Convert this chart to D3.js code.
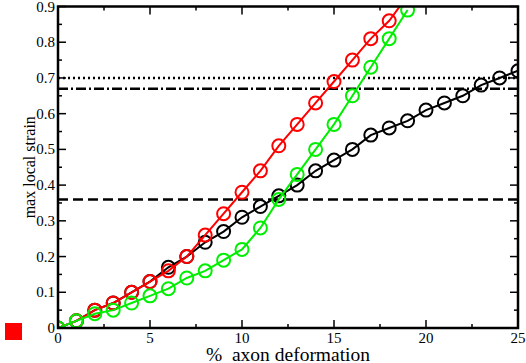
<!DOCTYPE html>
<html>
<head>
<meta charset="utf-8">
<script src="https://cdn.jsdelivr.net/npm/d3@7"></script>
<style>
  body { margin: 0; background: #fff; }
  text { font-family: "Liberation Serif", "DejaVu Serif", serif; }
</style>
</head>
<body>
<div id="chart"></div>
<script>
// data
const deformation = d3.range(0, 26);
const blackStrain = [0, 0.02, 0.05, 0.07, 0.10, 0.13, 0.17, 0.20, 0.24, 0.27, 0.31, 0.34, 0.37, 0.40,
  0.44, 0.47, 0.50, 0.54, 0.56, 0.58, 0.61, 0.63, 0.65, 0.68, 0.70, 0.72];
const redStrain = [0, 0.02, 0.05, 0.07, 0.10, 0.13, 0.16, 0.20, 0.26, 0.32, 0.38, 0.44, 0.51, 0.57,
  0.63, 0.69, 0.75, 0.81, 0.86, 0.93];
const greenStrain = [0, 0.02, 0.04, 0.05, 0.07, 0.09, 0.11, 0.14, 0.16, 0.19, 0.22, 0.28, 0.36, 0.43,
  0.50, 0.57, 0.65, 0.73, 0.81, 0.89];
const thresholds = [0.70, 0.67, 0.36];
const thresholdDash = ["2,3", "10,3,2,3", "10,5"];
const xTicks = [0, 5, 10, 15, 20, 25];
const yTicks = [0, 0.1, 0.2, 0.3, 0.4, 0.5, 0.6, 0.7, 0.8, 0.9];

const width = 526, height = 363;
const margin = { top: 6.5, right: 8, bottom: 35, left: 58 };
const plotW = width - margin.left - margin.right;
const plotH = height - margin.top - margin.bottom;

const svg = d3.select("#chart").append("svg")
  .attr("width", width)
  .attr("height", height);

const x = d3.scaleLinear().domain([0, 25]).range([margin.left, margin.left + plotW]);
const y = d3.scaleLinear().domain([0, 0.9]).range([margin.top + plotH, margin.top]);

svg.append("clipPath").attr("id", "clip")
  .append("rect")
  .attr("x", margin.left).attr("y", margin.top)
  .attr("width", plotW).attr("height", plotH);

// threshold lines
svg.selectAll(".thr")
  .data(thresholds)
  .enter().append("line")
  .attr("x1", x(0)).attr("x2", x(25))
  .attr("y1", d => y(d)).attr("y2", d => y(d))
  .attr("stroke", "black")
  .attr("stroke-width", 2.5)
  .attr("stroke-dasharray", (d, i) => thresholdDash[i]);

// series
const series = [
  { vals: blackStrain, color: "black" },
  { vals: redStrain, color: "#ff0000" },
  { vals: greenStrain, color: "#00ee00" }
];

const line = d3.line().x(d => x(d[0])).y(d => y(d[1]));
const plot = svg.append("g").attr("clip-path", "url(#clip)");

series.forEach(s => {
  const pts = s.vals.map((v, i) => [deformation[i], v]);
  plot.append("path")
    .attr("d", line(pts))
    .attr("fill", "none")
    .attr("stroke", s.color)
    .attr("stroke-width", 2);
  plot.selectAll(null)
    .data(pts)
    .enter().append("circle")
    .attr("cx", d => x(d[0]))
    .attr("cy", d => y(d[1]))
    .attr("r", 6.5)
    .attr("fill", "none")
    .attr("stroke", s.color)
    .attr("stroke-width", 2);
});

// ticks, inward on all four sides
const tickG = svg.append("g").attr("stroke", "black").attr("stroke-width", 1.5);
const xMinor = d3.range(0, 25.01, 2.5);
const yMinor = d3.range(0, 0.901, 0.05);

xMinor.forEach(v => {
  const len = Math.abs(v % 5) < 1e-6 ? 8 : 4;
  tickG.append("line").attr("x1", x(v)).attr("x2", x(v))
    .attr("y1", y(0)).attr("y2", y(0) - len);
  tickG.append("line").attr("x1", x(v)).attr("x2", x(v))
    .attr("y1", y(0.9)).attr("y2", y(0.9) + len);
});
yMinor.forEach((v, i) => {
  const len = i % 2 === 0 ? 8 : 4;
  tickG.append("line").attr("y1", y(v)).attr("y2", y(v))
    .attr("x1", x(0)).attr("x2", x(0) + len);
  tickG.append("line").attr("y1", y(v)).attr("y2", y(v))
    .attr("x1", x(25)).attr("x2", x(25) - len);
});

// frame
svg.append("rect")
  .attr("x", margin.left).attr("y", margin.top)
  .attr("width", plotW).attr("height", plotH)
  .attr("fill", "none")
  .attr("stroke", "black")
  .attr("stroke-width", 2.5);

// tick labels
svg.selectAll(".xl")
  .data(xTicks)
  .enter().append("text")
  .attr("x", d => x(d))
  .attr("y", y(0) + 14.5)
  .attr("text-anchor", "middle")
  .style("font-size", "15px")
  .text(d => d);

svg.selectAll(".yl")
  .data(yTicks)
  .enter().append("text")
  .attr("x", margin.left - 3)
  .attr("y", d => y(d) + 5)
  .attr("text-anchor", "end")
  .style("font-size", "15px")
  .text(d => d === 0 ? "0" : d3.format(".1f")(d));

// axis titles
svg.append("text")
  .attr("x", (x(0) + x(25)) / 2)
  .attr("y", 360.5)
  .attr("text-anchor", "middle")
  .style("font-size", "19.5px")
  .style("white-space", "pre")
  .text("%  axon deformation");

svg.append("text")
  .attr("transform", `translate(35, ${y(0.45)}) rotate(-90)`)
  .attr("text-anchor", "middle")
  .style("font-size", "16px")
  .text("max local strain");

// red square
svg.append("rect")
  .attr("x", 5).attr("y", 323)
  .attr("width", 17).attr("height", 17)
  .attr("fill", "#ff0000");
</script>
</body>
</html>
